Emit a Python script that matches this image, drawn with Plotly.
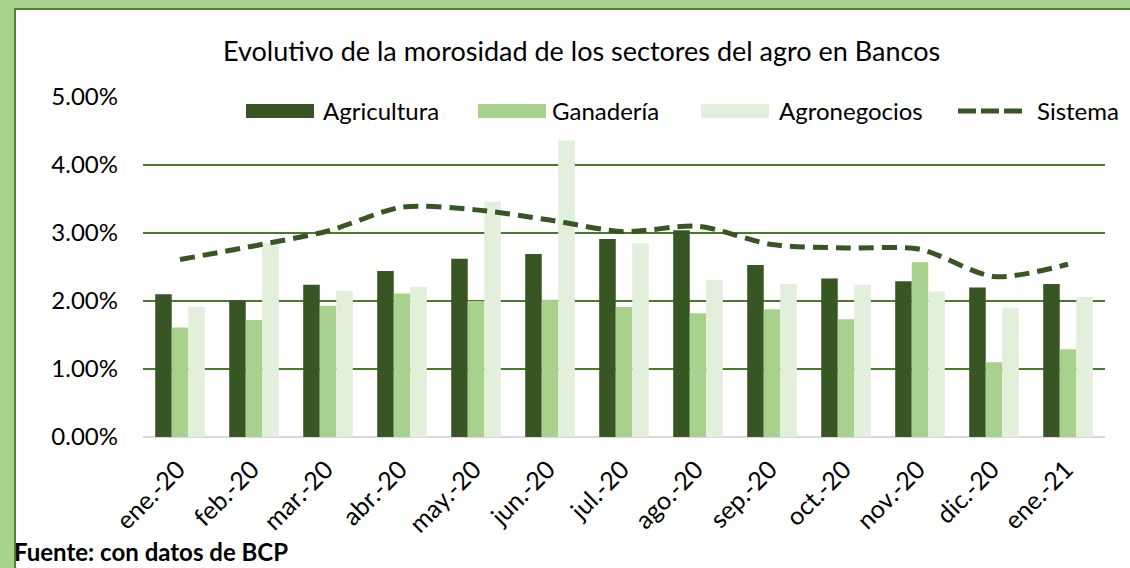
import plotly.graph_objects as go

categories = ["ene.-20", "feb.-20", "mar.-20", "abr.-20", "may.-20", "jun.-20",
              "jul.-20", "ago.-20", "sep.-20", "oct.-20", "nov.-20", "dic.-20", "ene.-21"]
agricultura = [0.0210, 0.0201, 0.0224, 0.0244, 0.0262, 0.0269, 0.0291, 0.0304, 0.0253, 0.0233, 0.0229, 0.0220, 0.0225]
ganaderia = [0.0161, 0.0172, 0.0193, 0.0211, 0.0200, 0.0202, 0.0191, 0.0182, 0.0188, 0.0173, 0.0257, 0.0110, 0.0129]
agronegocios = [0.0191, 0.0285, 0.0215, 0.0221, 0.0346, 0.0436, 0.0285, 0.0231, 0.0225, 0.0224, 0.0214, 0.0190, 0.0206]
sistema = [0.0261, 0.0281, 0.0303, 0.0338, 0.0334, 0.0319, 0.0302, 0.0310, 0.0283, 0.0278, 0.0276, 0.0236, 0.0254]
series_names = ["Agricultura", "Ganadería", "Agronegocios", "Sistema"]
y_ticks = [0, 0.01, 0.02, 0.03, 0.04, 0.05]

C_DARK = "#375623"
C_MID = "#A9D18E"
C_LIGHT = "#E2EFDA"
FONT = "Lato"

W, H = 1130, 568
L, R, T, B = 143, 25, 97, 131
PW, PH = W - L - R, H - T - B


def px(x):
    return (x - L) / PW


def py(y):
    return (H - B - y) / PH


fig = go.Figure()
fig.add_trace(go.Bar(x=categories, y=agricultura, name=series_names[0], marker_color=C_DARK, marker_line_width=0))
fig.add_trace(go.Bar(x=categories, y=ganaderia, name=series_names[1], marker_color=C_MID, marker_line_width=0))
fig.add_trace(go.Bar(x=categories, y=agronegocios, name=series_names[2], marker_color=C_LIGHT, marker_line_width=0))
fig.add_trace(go.Scatter(x=categories, y=sistema, name=series_names[3], mode="lines",
                         line=dict(color=C_DARK, width=5, dash="15px,8px", shape="spline", smoothing=0.8)))

shapes = [
    dict(type="rect", xref="paper", yref="paper", x0=px(15), x1=px(1140), y0=py(580), y1=py(9),
         fillcolor="white", line=dict(color="#548235", width=2), layer="below"),
]
annotations = [
    dict(text="Evolutivo de la morosidad de los sectores del agro en Bancos", xref="paper", yref="paper",
         x=px(581), y=py(50), xanchor="center", yanchor="middle", showarrow=False,
         font=dict(family=FONT, size=27, color="#000000")),
    dict(text="<b>Fuente: con datos de BCP</b>", xref="paper", yref="paper",
         x=px(12), y=py(551), xanchor="left", yanchor="middle", showarrow=False,
         font=dict(family=FONT, size=24, color="#000000")),
]

# custom legend
leg_y0, leg_y1, leg_yc = 104, 118, 111
rects = [(246, 314, C_DARK), (478, 546, C_MID), (701, 769, C_LIGHT)]
for x0, x1, c in rects:
    shapes.append(dict(type="rect", xref="paper", yref="paper", x0=px(x0), x1=px(x1),
                       y0=py(leg_y1), y1=py(leg_y0), fillcolor=c, line=dict(width=0)))
shapes.append(dict(type="line", xref="paper", yref="paper", x0=px(958), x1=px(1023),
                   y0=py(leg_yc), y1=py(leg_yc), line=dict(color=C_DARK, width=5, dash="18px,5px")))
text_x = [321, 550, 777, 1035]
for name, tx in zip(series_names, text_x):
    annotations.append(dict(text=name, xref="paper", yref="paper", x=px(tx), y=py(leg_yc),
                            xanchor="left", yanchor="middle", showarrow=False,
                            font=dict(family=FONT, size=24, color="#000000")))

fig.update_layout(
    width=W, height=H,
    margin=dict(l=L, r=R, t=T, b=B, pad=0),
    paper_bgcolor=C_MID, plot_bgcolor="white",
    barmode="group", bargap=0.33, bargroupgap=0,
    showlegend=False,
    shapes=shapes, annotations=annotations,
    font=dict(family=FONT, size=24, color="#000000"),
    xaxis=dict(type="category", tickangle=-45, showgrid=False, showline=False,
               tickfont=dict(family=FONT, size=25), ticklabelshift=-2, ticklabelstandoff=12),
    yaxis=dict(range=[0, 0.05], tickvals=y_ticks, tickformat=".2%", showgrid=True,
               gridcolor="#4A7A2C", gridwidth=1.5, zeroline=True, zerolinecolor="#D9D9D9",
               zerolinewidth=2, tickfont=dict(family=FONT, size=24), ticklabelstandoff=24),
)

fig.write_html("out.html", config={"displayModeBar": False},
               post_script="document.body.style.margin='0';document.body.style.overflow='hidden';")
